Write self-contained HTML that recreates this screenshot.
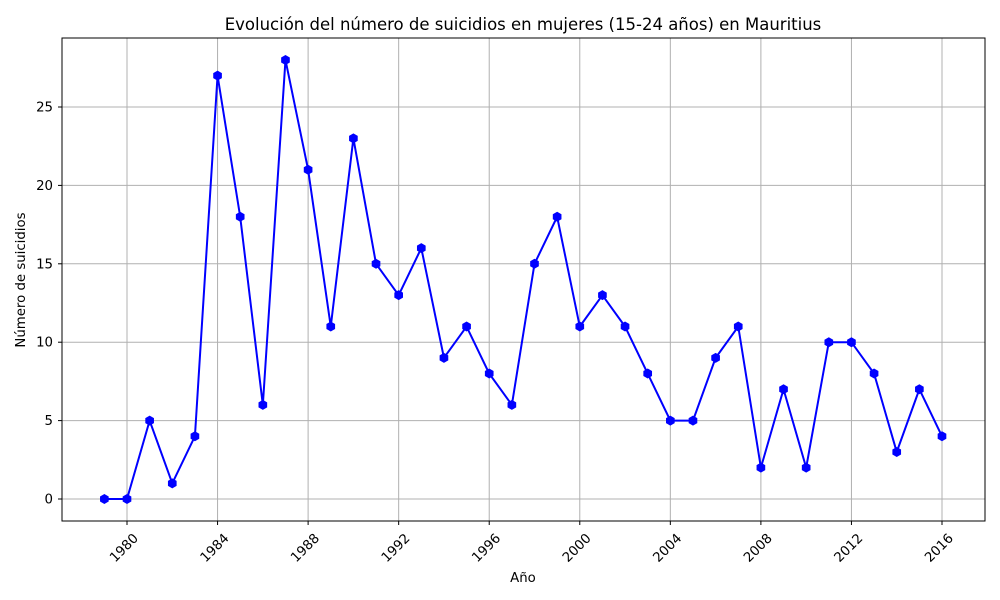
<!DOCTYPE html>
<html><head><meta charset="utf-8"><style>body{margin:0;background:#fff}svg{display:block;font-family:"DejaVu Sans","Liberation Sans",sans-serif}</style></head>
<body>
<svg id="chart" width="1000" height="600">
<rect width="1000" height="600" fill="#fff"/>
<text x="523" y="30" font-size="16.5" text-anchor="middle">Evolución del número de suicidios en mujeres (15-24 años) en Mauritius</text>
<g id="grid"></g>
<g id="axes"></g>
<g id="series"></g>
<rect x="62" y="38" width="923" height="483" fill="none" stroke="#000" stroke-width="1"/>
<text x="523" y="582" font-size="13.3" text-anchor="middle">Año</text>
<text transform="translate(25,280) rotate(-90)" font-size="13.3" text-anchor="middle">Número de suicidios</text>
</svg>
<script>
const years = [1979,1980,1981,1982,1983,1984,1985,1986,1987,1988,1989,1990,1991,1992,1993,1994,1995,1996,1997,1998,1999,2000,2001,2002,2003,2004,2005,2006,2007,2008,2009,2010,2011,2012,2013,2014,2015,2016];
const values = [0,0,5,1,4,27,18,6,28,21,11,23,15,13,16,9,11,8,6,15,18,11,13,11,8,5,5,9,11,2,7,2,10,10,8,3,7,4];
const xTicks = [1980,1984,1988,1992,1996,2000,2004,2008,2012,2016];
const yTicks = [0,5,10,15,20,25];
const NS='http://www.w3.org/2000/svg';
const x = v => 127 + (v-1980)*(815/36);
const y = v => 499 - v*15.68;
function mk(tag, attrs, parent){const e=document.createElementNS(NS,tag);for(const k in attrs)e.setAttribute(k,attrs[k]);parent.appendChild(e);return e;}
const grid=document.getElementById('grid'), axes=document.getElementById('axes'), series=document.getElementById('series');
xTicks.forEach(t=>{
  const g=mk('line',{x1:x(t),x2:x(t),y1:38,y2:521,stroke:'#b0b0b0','stroke-width':1},grid);
  
  
  const tk=mk('line',{x1:x(t),x2:x(t),y1:521,y2:525,stroke:'#000'},axes);
  
  
  const lb=mk('text',{'font-size':13.3,'text-anchor':'end',transform:`translate(${x(t)+12},${539}) rotate(-45)`},axes);
  lb.textContent=t;
  
  
});
yTicks.forEach(t=>{
  const g=mk('line',{x1:62,x2:985,y1:y(t),y2:y(t),stroke:'#b0b0b0','stroke-width':1},grid);
  
  
  const tk=mk('line',{x1:58,x2:62,y1:y(t),y2:y(t),stroke:'#000'},axes);
  
  
  const lb=mk('text',{x:53,y:y(t)+4.5,'font-size':13.3,'text-anchor':'end'},axes);
  lb.textContent=t;
  
  
});
const line=mk('polyline',{points:years.map((yr,i)=>x(yr)+','+y(values[i])).join(' '),fill:'none',stroke:'#0000ff','stroke-width':2},series);


years.forEach((yr,i)=>{
  const cx=x(yr), cy=y(values[i]), r=5;
  const pts=[];for(let k=0;k<6;k++){const a=Math.PI/6+k*Math.PI/3;pts.push((cx+r*Math.cos(a))+','+(cy+r*Math.sin(a)));}
  const m=mk('polygon',{points:pts.join(' '),fill:'#0000ff'},series);
  
  
});
</script>
</body></html>
